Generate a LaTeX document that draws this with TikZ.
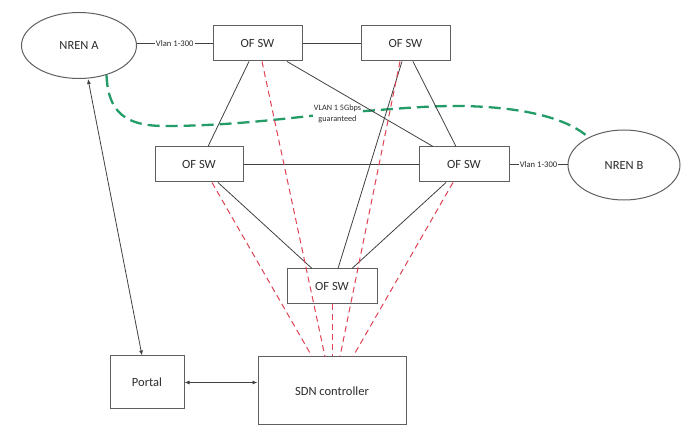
\documentclass[tikz,border=0pt]{standalone}
\usepackage{fontspec}
\setmainfont{Carlito}
\usetikzlibrary{shapes.geometric,arrows.meta}

\definecolor{txt}{RGB}{45,45,45}
\definecolor{boxline}{RGB}{95,95,95}
\definecolor{wire}{RGB}{65,65,65}
\definecolor{ctrlred}{RGB}{222,66,84}
\definecolor{pathgreen}{RGB}{36,156,104}

\tikzset{
  swbox/.style={draw=boxline, line width=1pt, minimum width=89pt, minimum height=35pt,
    inner sep=0pt, text=txt, font=\fontsize{12.5}{14}\selectfont},
  nren/.style={ellipse, draw=boxline, line width=1pt, inner sep=0pt, text=txt,
    font=\fontsize{12.5}{14}\selectfont},
  plainbox/.style={draw=boxline, line width=1pt, inner sep=0pt, text=txt,
    font=\fontsize{12.5}{14}\selectfont},
  link/.style={draw=wire, line width=0.8pt},
  ctrl/.style={draw=ctrlred, line width=1pt, dash pattern=on 6pt off 4pt},
  guar/.style={draw=pathgreen, line width=2.3pt, dash pattern=on 12pt off 6pt},
  vlan/.style={fill=white, inner sep=1pt, text=txt, font=\fontsize{8.6}{9}\selectfont},
  arr/.style={draw=wire, line width=0.8pt, {Latex[length=5pt,width=4pt]}-{Latex[length=5pt,width=4pt]}}
}

\begin{document}
\begin{tikzpicture}[x=1pt,y=-1pt]
  \useasboundingbox[fill=white] (0,0) rectangle (681,427);

  % network elements
  \node[nren, minimum width=115pt, minimum height=66pt] (nrenA) at (79,45.5) {NREN A};
  \node[nren, minimum width=112pt, minimum height=70pt] (nrenB) at (624,165) {NREN B};
  \node[swbox] (sw1) at (257.5,43.5) {OF SW};
  \node[swbox] (sw2) at (405.5,43.5) {OF SW};
  \node[swbox, minimum width=88pt] (sw3) at (199,164.5) {OF SW};
  \node[swbox, minimum width=90pt] (sw4) at (464,164.5) {OF SW};
  \node[swbox, minimum width=90pt] (sw5) at (332,286.5) {OF SW};
  \node[plainbox, minimum width=74pt, minimum height=53pt] (portal) at (147,382.5) {Portal};
  \node[plainbox, minimum width=148pt, minimum height=68pt] (sdn) at (332,391) {SDN controller};

  % guaranteed VLAN path between the two NRENs
  \draw[guar] (nrenA.-47) .. controls (108,112) and (125,126) .. (165,126)
                          .. controls (230,126) and (290,118) .. (337,113)
                          .. controls (380,110.3) and (420,106) .. (455,106)
                          .. controls (500,106) and (560,112) .. (nrenB.142);
  \node[vlan, align=center, font=\fontsize{8.2}{11}\selectfont] (qos) at (337.5,114)
    {VLAN 1 5Gbps\\guaranteed};

  % data-plane links
  \draw[link] (nrenA.east |- sw1.west) -- node[vlan] (vlanA) {Vlan 1-300} (sw1.west);
  \draw[link] (sw4.east) -- node[vlan] (vlanB) {Vlan 1-300} (sw4.east -| nrenB.west);
  \draw[link] (sw1) -- (sw2);
  \draw[link] (sw3) -- (sw4);
  \draw[link] ([xshift=-8.5pt]sw1.south) -- ([xshift=9pt]sw3.north);
  \draw[link] ([xshift=29.5pt]sw1.south) -- ([xshift=-31pt]sw4.north);
  \draw[link] ([xshift=7.5pt]sw2.south) -- ([xshift=-8pt]sw4.north);
  \draw[link] ([xshift=-3.5pt]sw2.south) -- ([xshift=6pt]sw5.north);
  \draw[link] ([xshift=19pt]sw3.south) -- ([xshift=-20pt]sw5.north);
  \draw[link] ([xshift=-18pt]sw4.south) -- ([xshift=20pt]sw5.north);

  % control channels to the SDN controller
  \draw[ctrl] ([xshift=13pt]sw3.south) -- ([xshift=-20pt]sdn.north);
  \draw[ctrl] ([xshift=4.5pt]sw1.south) -- ([xshift=-7pt]sdn.north);
  \draw[ctrl] (sw5.south) -- (sdn.north);
  \draw[ctrl] ([xshift=-5.5pt]sw2.south) -- ([xshift=8pt]sdn.north);
  \draw[ctrl] ([xshift=-11pt]sw4.south) -- ([xshift=21pt]sdn.north);

  % management connections
  \draw[arr] ([xshift=9pt]nrenA.south) -- ([xshift=-5pt]portal.north);
  \draw[arr] (portal.east) -- (portal.east -| sdn.west);
\end{tikzpicture}
\end{document}
